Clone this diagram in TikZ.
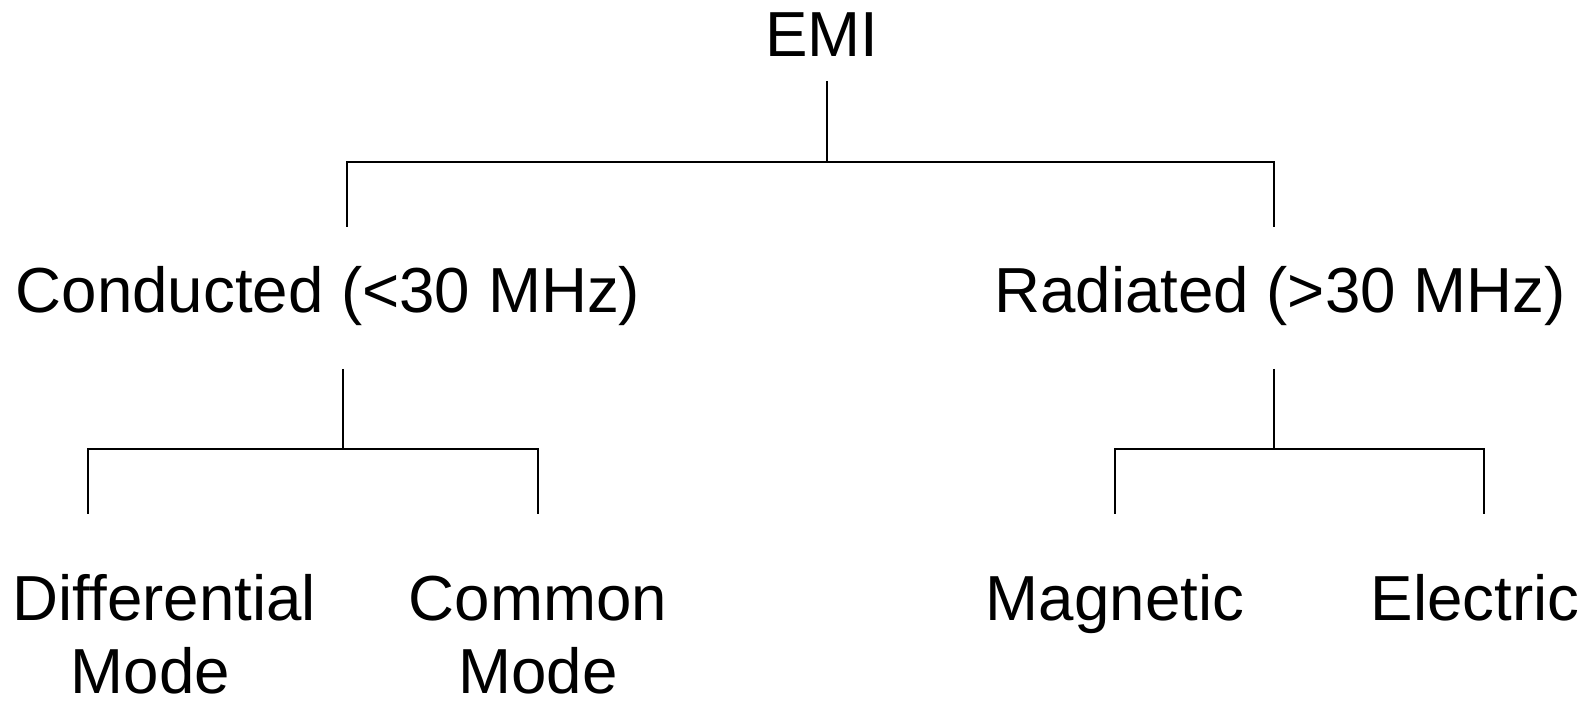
\documentclass[tikz,border=0pt]{standalone}
\usepackage{fontspec}
\setmainfont{Liberation Sans}
\tikzset{
  lbl/.style={anchor=base, inner sep=0pt, align=center,
    font=\fontsize{18.1}{20.8}\selectfont},
  branch/.style={line width=0.55pt}
}
\begin{document}
\begin{tikzpicture}[x=0.01cm, y=-0.01cm]
  \useasboundingbox (0,0) rectangle (1590,701);

  % labels
  \node[lbl] (emi) at (822,57) {EMI};
  \node[lbl] (cond) at (328,313) {Conducted (<30 MHz)};
  \node[lbl] (rad) at (1280,313) {Radiated (>30 MHz)};
  \node[lbl, anchor=base west, align=left] (diff) at (12,694) {Differential\\\hspace*{0.58cm}Mode};
  \node[lbl] (comm) at (538,694) {Common\\Mode};
  \node[lbl] (magn) at (1115,621) {Magnetic};
  \node[lbl] (elec) at (1475,621) {Electric};

  % branch points
  \coordinate (emistem) at (827,81);
  \coordinate (emibar) at (827,162);
  \coordinate (condtop) at (347,227);
  \coordinate (radtop) at (1274,227);
  \coordinate (condstem) at (343,369);
  \coordinate (condbar) at (343,449);
  \coordinate (difftop) at (88,514);
  \coordinate (commtop) at (538,514);
  \coordinate (radstem) at (1274,369);
  \coordinate (radbar) at (1274,449);
  \coordinate (magntop) at (1115,514);
  \coordinate (electop) at (1484,514);

  \draw[branch] (emistem) -- (emibar);
  \draw[branch] (condtop) |- (emibar) -| (radtop);
  \draw[branch] (condstem) -- (condbar);
  \draw[branch] (difftop) |- (condbar) -| (commtop);
  \draw[branch] (radstem) -- (radbar);
  \draw[branch] (magntop) |- (radbar) -| (electop);
\end{tikzpicture}
\end{document}
